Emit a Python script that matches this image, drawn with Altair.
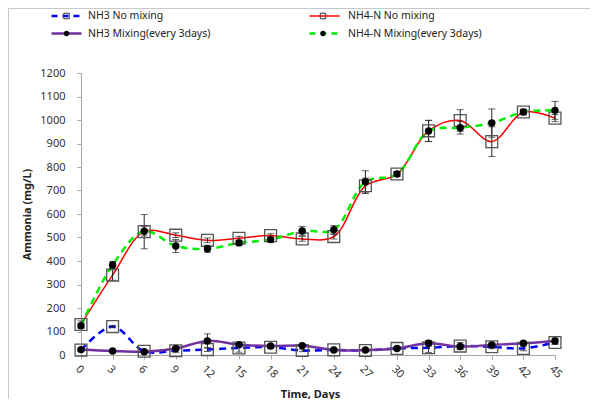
import altair as alt
import pandas as pd

days = [0, 3, 6, 9, 12, 15, 18, 21, 24, 27, 30, 33, 36, 39, 42, 45]

nh3_nomix = [21, 121, 16, 18, 23, 30, 33, 19, 22, 19, 28, 31, 38, 35, 28, 53]
nh3_nomix_err = [5, 5, 5, 8, 8, 18, 5, 5, 5, 5, 5, 20, 15, 8, 10, 8]

nh4_nomix = [130, 340, 525, 510, 488, 497, 508, 494, 504, 720, 770, 954, 998, 908, 1034, 1008]
nh4_nomix_err = [15, 22, 73, 10, 10, 8, 8, 10, 10, 33, 10, 45, 46, 63, 12, 15]

nh3_mix = [23, 17, 14, 28, 60, 44, 38, 40, 21, 21, 28, 50, 36, 43, 50, 60]
nh3_mix_err = [5, 3, 3, 5, 30, 5, 5, 5, 5, 3, 5, 12, 8, 8, 8, 12]

nh4_mix = [125, 383, 527, 464, 452, 477, 491, 528, 533, 737, 770, 953, 967, 987, 1034, 1041]
nh4_mix_err = [10, 15, 20, 28, 15, 10, 12, 19, 18, 47, 10, 45, 27, 60, 10, 38]

y_ticks = list(range(0, 1201, 100))

series = [
    # name, values, errors, color, dash, width, marker
    ("NH3 No mixing", nh3_nomix, nh3_nomix_err, "#0000ff", [7, 5], 2.5, "square"),
    ("NH4-N No mixing", nh4_nomix, nh4_nomix_err, "#ff0000", None, 1.5, "square"),
    ("NH3 Mixing(every 3days)", nh3_mix, nh3_mix_err, "#7030a0", None, 2.5, "circle"),
    ("NH4-N Mixing(every 3days)", nh4_mix, nh4_mix_err, "#00ee00", [7, 5], 2.5, "circle"),
]

rows = []
for name, vals, errs, *_ in series:
    for d, v, e in zip(days, vals, errs):
        rows.append({"day": d, "value": v, "lo": v - e, "hi": v + e, "series": name})
df = pd.DataFrame(rows)

W, H = 474, 282
FONT = "Noto Sans"

xs = alt.Scale(domain=[0, 45], nice=False, zero=False)
ys = alt.Scale(domain=[0, 1200], nice=False)

x_axis = alt.Axis(values=days, labelAngle=45, labelPadding=4, grid=False,
                  labelOverlap=False, labelFlush=False, format="d",
                  titleX=229, titleY=39, titleBaseline="middle")
y_axis = alt.Axis(values=y_ticks, labelPadding=12, grid=False,
                  labelOverlap=False, labelFlush=False, format="d",
                  titleX=-54, titleY=H / 2, titleBaseline="middle")


def X(field):
    return alt.X(field + ":Q", scale=xs, title="Time, Days", axis=x_axis)


def Y(field):
    return alt.Y(field + ":Q", scale=ys, title="Ammonia (mg/L)", axis=y_axis)


base = alt.Chart(df)
layers = []

# lines
for name, vals, errs, color, dash, sw, marker in series:
    kw = dict(color=color, strokeWidth=sw, interpolate="catmull-rom")
    if dash:
        kw["strokeDash"] = dash
    layers.append(
        base.transform_filter(alt.datum.series == name)
        .mark_line(**kw)
        .encode(x=X("day"), y=Y("value"))
    )

# error bars
layers.append(
    base.mark_rule(color="#222222", strokeWidth=1).encode(
        x=X("day"), y=Y("lo"), y2="hi:Q"
    )
)
layers.append(
    base.mark_tick(orient="horizontal", color="#222222", size=7, thickness=1).encode(
        x=X("day"), y=Y("lo")
    )
)
layers.append(
    base.mark_tick(orient="horizontal", color="#222222", size=7, thickness=1).encode(
        x=X("day"), y=Y("hi")
    )
)

# markers
for name, vals, errs, color, dash, sw, marker in series:
    if marker == "square":
        m = base.transform_filter(alt.datum.series == name).mark_point(
            shape="square", size=140, filled=False, color="#555555", strokeWidth=1.3, opacity=1
        )
    else:
        m = base.transform_filter(alt.datum.series == name).mark_point(
            shape="circle", size=55, filled=True, color="#000000", opacity=1
        )
    layers.append(m.encode(x=X("day"), y=Y("value")))

# legend (top, two columns)
leg_pos = {
    "NH3 No mixing": (-29.5, 0.5, -14.5, 7, -57),
    "NH4-N No mixing": (228.5, 258.5, 242, 267, -57),
    "NH3 Mixing(every 3days)": (-29.5, 0.5, -14.5, 7, -39.5),
    "NH4-N Mixing(every 3days)": (228.5, 258.5, 242, 267, -39.5),
}
for name, vals, errs, color, dash, sw, marker in series:
    x1, x2, xm, xt, yy = leg_pos[name]
    one = alt.Chart(pd.DataFrame({"label": [name]}))
    kw = dict(color=color, strokeWidth=sw)
    if dash:
        kw["strokeDash"] = [6, 5]
    layers.append(one.mark_rule(**kw).encode(
        x=alt.value(x1), x2=alt.value(x2), y=alt.value(yy)))
    if marker == "square":
        pm = one.mark_point(shape="square", size=30, filled=False, color="#333333",
                            strokeWidth=1, opacity=1)
    else:
        pm = one.mark_point(shape="circle", size=28, filled=True, color="#000000", opacity=1)
    layers.append(pm.encode(x=alt.value(xm), y=alt.value(yy)))
    layers.append(one.mark_text(align="left", baseline="middle", font=FONT,
                                fontSize=10.5, color="#222222").encode(
        x=alt.value(xt), y=alt.value(yy), text="label:N"))

# chart border (top and left edges only, as in the reference crop)
frame = alt.Chart(pd.DataFrame({"a": [0]}))
layers.append(frame.mark_rule(color="#c8c8c8", strokeWidth=1).encode(
    x=alt.value(-72.5), x2=alt.value(W + 35), y=alt.value(-64.5)))
layers.append(frame.mark_rule(color="#c8c8c8", strokeWidth=1).encode(
    x=alt.value(-72.5), y=alt.value(-64.5), y2=alt.value(H + 44)))

chart = alt.layer(*layers).properties(
    width=W, height=H,
    autosize=alt.AutoSizeParams(type="none"),
    padding={"left": 73, "top": 65, "right": 35, "bottom": 44},
).configure_view(strokeWidth=0).configure_axis(
    domainColor="#a6a6a6", tickColor="#a6a6a6", tickSize=4,
    labelFont=FONT, labelFontSize=11, labelColor="#333333",
    titleFont=FONT, titleFontSize=11, titleFontWeight="bold", titleColor="#222222",
)

chart.save("out.html", embed_options={"renderer": "svg", "actions": False})
